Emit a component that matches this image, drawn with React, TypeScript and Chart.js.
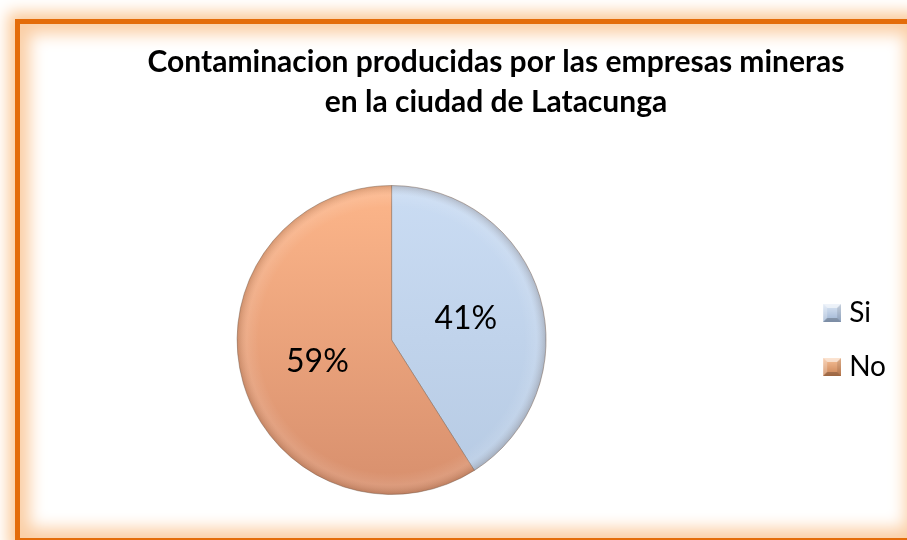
import { useEffect, useRef } from 'react';
import { Chart, registerables } from 'chart.js';

Chart.register(...registerables);

const titleLines = ['Contaminacion producidas por las empresas mineras', 'en la ciudad de Latacunga'];
const categories = ['Si', 'No'];
const percentages = [41, 59];

const sliceTop = ['#CADCF3', '#FDB68A'];
const sliceBottom = ['#B6CAE3', '#D78F6D'];
const markerTop = ['#DCE7F5', '#F7C29A'];
const markerBottom = ['#9DB4D3', '#C98253'];

const FONT = 'Lato, "Open Sans", sans-serif';
const LEGEND_FONT_SIZE = 28;
const POINT_W = 122;

function makeMarker(top: string, bottom: string): HTMLCanvasElement {
  const s = 18;
  const w = 134;
  const c = document.createElement('canvas');
  c.width = w;
  c.height = s;
  const g = c.getContext('2d')!;
  const x0 = w - s;
  const grad = g.createLinearGradient(0, 0, 0, s);
  grad.addColorStop(0, top);
  grad.addColorStop(1, bottom);
  g.fillStyle = grad;
  g.fillRect(x0, 0, s, s);
  const b = 4;
  const poly = (pts: number[][], color: string) => {
    g.beginPath();
    g.moveTo(x0 + pts[0][0], pts[0][1]);
    for (let i = 1; i < pts.length; i++) g.lineTo(x0 + pts[i][0], pts[i][1]);
    g.closePath();
    g.fillStyle = color;
    g.fill();
  };
  poly([[0, 0], [s, 0], [s - b, b], [b, b]], 'rgba(255,255,255,0.55)');
  poly([[0, 0], [b, b], [b, s - b], [0, s]], 'rgba(255,255,255,0.25)');
  poly([[s, 0], [s, s], [s - b, s - b], [s - b, b]], 'rgba(0,0,0,0.10)');
  poly([[0, s], [b, s - b], [s - b, s - b], [s, s]], 'rgba(0,0,0,0.22)');
  return c;
}

const pieDecor = {
  id: 'pieDecor',
  afterDatasetsDraw(chart: any) {
    const ctx = chart.ctx as CanvasRenderingContext2D;
    const meta = chart.getDatasetMeta(0);
    if (!meta.data.length) return;
    const first = meta.data[0];
    const cx = first.x;
    const cy = first.y;
    const R = first.outerRadius;
    ctx.save();
    const g = ctx.createRadialGradient(cx, cy, R * 0.86, cx, cy, R);
    g.addColorStop(0, 'rgba(255,255,255,0)');
    g.addColorStop(0.55, 'rgba(255,255,255,0.10)');
    g.addColorStop(1, 'rgba(80,50,30,0.20)');
    ctx.beginPath();
    ctx.arc(cx, cy, R, 0, Math.PI * 2);
    ctx.fillStyle = g;
    ctx.fill();
    ctx.fillStyle = '#000';
    ctx.font = `32px ${FONT}`;
    ctx.textAlign = 'center';
    ctx.textBaseline = 'middle';
    meta.data.forEach((arc: any, i: number) => {
      const mid = (arc.startAngle + arc.endAngle) / 2;
      const r = arc.outerRadius * 0.5;
      ctx.fillText(`${percentages[i]}%`, arc.x + Math.cos(mid) * r, arc.y + Math.sin(mid) * r);
    });
    ctx.restore();
  },
};

export default function App() {
  const ref = useRef<HTMLCanvasElement | null>(null);

  useEffect(() => {
    if (!ref.current) return;
    const markers = [makeMarker(markerTop[0], markerBottom[0]), makeMarker(markerTop[1], markerBottom[1])];
    const defaultGen = (Chart as any).overrides.pie.plugins.legend.labels.generateLabels;
    const chart = new Chart(ref.current, {
      type: 'pie',
      data: {
        labels: categories,
        datasets: [
          {
            data: percentages,
            backgroundColor: (c: any) => {
              const area = c.chart.chartArea;
              const i = c.dataIndex ?? 0;
              if (!area) return sliceTop[i];
              const g = c.chart.ctx.createLinearGradient(0, area.top, 0, area.bottom);
              g.addColorStop(0, sliceTop[i]);
              g.addColorStop(1, sliceBottom[i]);
              return g;
            },
            borderColor: 'rgba(120,95,80,0.45)',
            borderWidth: 1,
          },
        ],
      },
      options: {
        responsive: false,
        animation: false,
        layout: { padding: { left: 96, right: 11, top: 0, bottom: 45 } },
        plugins: {
          tooltip: { enabled: false },
          title: {
            display: true,
            text: titleLines,
            color: '#000',
            font: { family: FONT, size: 30, weight: 'bold', lineHeight: 1.35 },
            padding: { top: 42, bottom: 62 },
          },
          legend: {
            position: 'right',
            fullSize: false,
            labels: {
              usePointStyle: true,
              pointStyleWidth: POINT_W,
              padding: 26,
              color: '#000',
              font: { family: FONT, size: LEGEND_FONT_SIZE },
              generateLabels: (ch: any) =>
                defaultGen(ch).map((it: any, i: number) => ({ ...it, pointStyle: markers[i] })),
            },
          },
        },
      } as any,
      plugins: [pieDecor],
    });
    return () => chart.destroy();
  }, []);

  return (
    <div style={{ position: 'fixed', left: 0, top: 0, width: 907, height: 540, overflow: 'hidden', background: '#fff' }}>
      <div
        style={{
          position: 'absolute',
          left: 15,
          top: 19,
          width: 905,
          height: 524,
          boxSizing: 'border-box',
          border: '5px solid #E46C0A',
          boxShadow: '0 0 14px 7px #FBCB9C, inset 0 0 16px 10px #FBCFA6',
          background: '#fff',
        }}
      />
      <canvas ref={ref} width={907} height={540} style={{ position: 'absolute', left: 0, top: 0, width: 907, height: 540 }} />
    </div>
  );
}
